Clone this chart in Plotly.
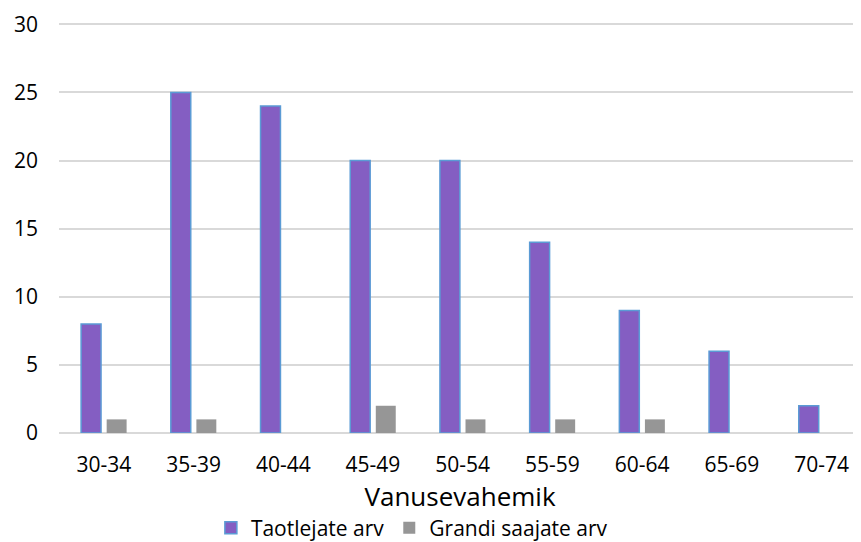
import plotly.graph_objects as go

categories = ["30-34", "35-39", "40-44", "45-49", "50-54", "55-59", "60-64", "65-69", "70-74"]
taotlejad = [8, 25, 24, 20, 20, 14, 9, 6, 2]
saajad = [1, 1, 0, 2, 1, 1, 1, 0, 0]

FONT = "Open Sans"

fig = go.Figure()
fig.add_trace(go.Bar(
    x=categories, y=taotlejad, name="Taotlejate arv",
    marker=dict(color="#845EC2", line=dict(color="#5B9BD5", width=1.5)),
))
fig.add_trace(go.Bar(
    x=categories, y=saajad, name="Grandi saajate arv",
    marker=dict(color="#969696", line=dict(color="#969696", width=0)),
))

fig.update_layout(
    width=861, height=542,
    margin=dict(l=51, r=8, t=15, b=117, autoexpand=False),
    plot_bgcolor="white", paper_bgcolor="white",
    barmode="group", bargap=0.43, bargroupgap=0.22,
    font=dict(family=FONT, size=21, color="#000000"),
    xaxis=dict(
        title=dict(text="Vanusevahemik", font=dict(size=26, family=FONT, color="#000000"), standoff=10),
        range=[-0.5, 8.44], automargin=False,
        showgrid=False, showline=False, ticks="", ticklabelstandoff=17,
        tickfont=dict(size=21, family=FONT, color="#000000"),
    ),
    yaxis=dict(
        range=[0, 30.1], tickvals=[0, 5, 10, 15, 20, 25, 30], automargin=False,
        showgrid=True, gridcolor="#D9D9D9", gridwidth=1.5,
        zeroline=True, zerolinecolor="#D9D9D9", zerolinewidth=1.5,
        showline=False, ticks="", ticklabelstandoff=20,
        tickfont=dict(size=21, family=FONT, color="#000000"),
    ),
    legend=dict(
        orientation="h", x=0.44, xanchor="center", y=-0.232, yanchor="middle",
        font=dict(size=21, family=FONT, color="#000000"), itemwidth=30,
    ),
)

fig.write_html("out.html")
